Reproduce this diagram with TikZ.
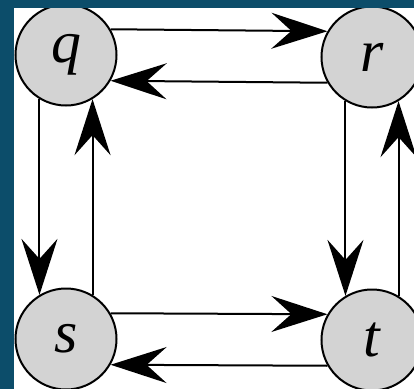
\documentclass[tikz,border=0pt]{standalone}
\usepackage{fontspec}
\newfontfamily\statefont{Liberation Serif Italic}
\usetikzlibrary{arrows.meta}
\definecolor{frameblue}{RGB}{12,77,106}
\definecolor{nodegray}{RGB}{211,211,211}
\begin{document}
\begin{tikzpicture}[x=1bp,y=-1bp,
  state/.style={circle, draw=black, line width=2bp, fill=nodegray,
    minimum size=101bp, inner sep=0pt,
    font=\statefont\fontsize{60}{60}\selectfont},
  link/.style={line width=2bp,
    -{Stealth[length=56bp,width=36bp,inset=20bp]}}]
\useasboundingbox (0,0) rectangle (414,389);
\clip (0,0) rectangle (414,389);
\fill[white] (0,0) rectangle (414,389);

% the four states
\node[state] (q) at (66,55)  {q};
\node[state] (r) at (372,57) {r};
\node[state] (s) at (66,339) {s};
\node[state] (t) at (372,340) {t};

% paired transitions along each side
\draw[link] (q.30)  -- (r.150);
\draw[link] (r.210) -- (q.330);
\draw[link] (q.239) -- (s.121);
\draw[link] (s.59)  -- (q.301);
\draw[link] (r.239) -- (t.121);
\draw[link] (t.59)  -- (r.301);
\draw[link] (s.30)  -- (t.150);
\draw[link] (t.210) -- (s.330);

% frame along the top and left edges
\fill[frameblue] (0,0) rectangle (414,8);
\fill[frameblue] (0,0) rectangle (14,389);
\end{tikzpicture}
\end{document}
